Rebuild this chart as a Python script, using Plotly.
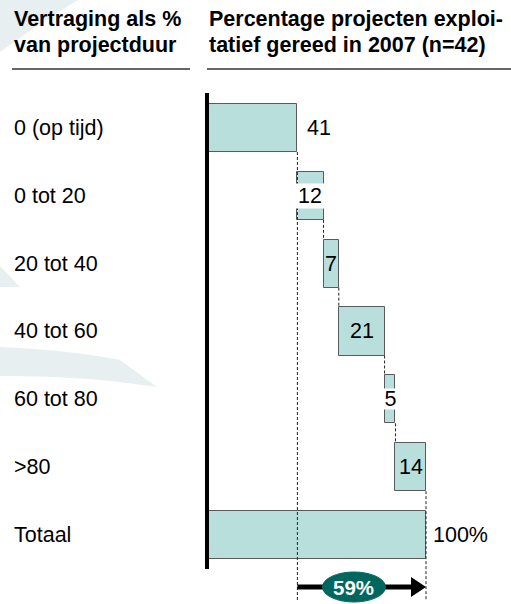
import plotly.graph_objects as go

# ---------------- data ----------------
categories = ["0 (op tijd)", "0 tot 20", "20 tot 40", "40 tot 60", "60 tot 80", ">80", "Totaal"]
values = [41, 12, 7, 21, 5, 14]          # % of projects per delay class
header_left = ["Vertraging als %", "van projectduur"]
header_right = ["Percentage projecten exploi-", "tatief gereed in 2007 (n=42)"]

# ---------------- layout constants ----------------
W, H = 511, 604
X0_PX, PX_PER_UNIT = 208, 2.18      # x pixel of value 0, pixels per percent
ROW0_PX, ROW_PX = 128, 67.83        # y pixel of first row centre, row pitch
BAR_H = 0.708                       # bar thickness in row units
FONT = "Liberation Sans, Arial, sans-serif"
FILL = "#b9dfdd"
EDGE = "#5a5a5a"
DARK = "#00665e"
WM = "#e8eff0"

total = sum(values)
starts, acc = [], 0
for v in values:
    starts.append(acc)
    acc += v
ends = [s + v for s, v in zip(starts, values)]
n = len(categories)

def ry(py):   # pixel y -> row units
    return (py - ROW0_PX) / ROW_PX

def ux(px):   # pixel length -> x units
    return px / PX_PER_UNIT

def pp(x, y):  # pixel -> paper coords string
    return f"{x / W:.5f},{1 - y / H:.5f}"

fig = go.Figure()
fig.add_trace(go.Bar(
    orientation="h",
    y=list(range(n)),
    x=values + [total],
    base=starts + [0],
    width=BAR_H,
    marker=dict(color=FILL, line=dict(color=EDGE, width=1)),
    hoverinfo="skip",
))

shapes = []
# watermark swooshes
for path in [
    f"M {pp(0,0)} L {pp(78,0)} Q {pp(38,24)} {pp(0,52)} Z",
    f"M {pp(0,266)} Q {pp(10,276)} {pp(20,287)} L {pp(0,287)} Z",
    f"M {pp(0,347)} Q {pp(70,350)} {pp(120,360)} L {pp(157,387)} Q {pp(80,375)} {pp(0,376)} Z",
]:
    shapes.append(dict(type="path", xref="paper", yref="paper", path=path,
                       fillcolor=WM, line=dict(width=0), layer="below"))

# header underlines
shapes.append(dict(type="line", xref="paper", yref="paper", x0=12 / W, x1=190 / W,
                   y0=1 - 69 / H, y1=1 - 69 / H, line=dict(color="#333333", width=1.5)))
shapes.append(dict(type="line", xref="paper", yref="paper", x0=207 / W, x1=1,
                   y0=1 - 69 / H, y1=1 - 69 / H, line=dict(color="#333333", width=1.5)))

hw = BAR_H / 2
dash = dict(color="#222222", width=1, dash="3px,2px")
bottom = ry(601)
# long dashed guides at first value and total
shapes.append(dict(type="line", x0=ends[0], x1=ends[0], y0=0 + hw, y1=bottom, line=dash))
shapes.append(dict(type="line", x0=total, x1=total, y0=(n - 2) + hw, y1=bottom, line=dash))
# connectors between steps
for i in range(1, len(values) - 1):
    shapes.append(dict(type="line", x0=ends[i], x1=ends[i], y0=i + hw, y1=i + 1 - hw, line=dash))

# vertical axis line
shapes.append(dict(type="line", x0=-ux(1), x1=-ux(1), y0=ry(93), y1=ry(569),
                   line=dict(color="black", width=4)))

# bottom arrow
ya = ry(587)
tip = total
bx = tip - ux(15)
shapes.append(dict(type="line", x0=ends[0], x1=bx + ux(1), y0=ya, y1=ya,
                   line=dict(color="black", width=5)))
shapes.append(dict(type="path", path=f"M {bx},{ya - ry(ROW0_PX + 10)} L {tip},{ya} L {bx},{ya + ry(ROW0_PX + 10)} Z",
                   fillcolor="black", line=dict(width=0)))
# ellipse
rest = total - values[0]
cx = values[0] + 0.44 * rest
shapes.append(dict(type="circle", x0=cx - ux(31.5), x1=cx + ux(31.5),
                   y0=ya - ry(ROW0_PX + 15), y1=ya + ry(ROW0_PX + 15),
                   fillcolor=DARK, line=dict(color=DARK, width=1)))

annotations = []
# headers
for col_x, lines in [(12, header_left), (207, header_right)]:
    for k, (txt, cy) in enumerate(zip(lines, [18.5, 45])):
        annotations.append(dict(xref="paper", yref="paper", x=col_x / W, y=1 - cy / H,
                                xanchor="left", yanchor="middle", text=txt, showarrow=False,
                                font=dict(family=FONT, size=21.5, color="black", weight="bold")))
# category labels
for i, c in enumerate(categories):
    annotations.append(dict(xref="paper", yref="y", x=12 / W, y=i, xanchor="left",
                            yanchor="middle", text=c, showarrow=False,
                            font=dict(family=FONT, size=21.5, color="black")))
# value labels
BOXED = {1, 4}
lab_font = dict(family=FONT, size=21.5, color="black")
for i, v in enumerate(values):
    if i == 0:
        annotations.append(dict(x=ends[i], y=i, xanchor="left", xshift=8, text=str(v),
                                showarrow=False, font=lab_font))
    elif i in BOXED:
        annotations.append(dict(x=starts[i] + v / 2, y=i, text=str(v), showarrow=False,
                                font=lab_font, bgcolor="white",
                                width=max(ux(0) + v * PX_PER_UNIT + 6, 16), height=24 if v > 9 else 20,
                                borderpad=0))
    else:
        annotations.append(dict(x=starts[i] + v / 2, y=i, text=str(v), showarrow=False,
                                font=lab_font))
annotations.append(dict(x=total, y=n - 1, xanchor="left", xshift=5, text=f"{total}%",
                        showarrow=False, font=lab_font))
annotations.append(dict(x=cx, y=ya, text=f"{rest}%", showarrow=False,
                        font=dict(family=FONT, size=20.5, color="white", weight="bold")))

fig.update_layout(
    width=W, height=H, margin=dict(l=0, r=0, t=0, b=0),
    paper_bgcolor="white", plot_bgcolor="rgba(0,0,0,0)",
    showlegend=False, bargap=0,
    xaxis=dict(range=[-X0_PX / PX_PER_UNIT, (W - X0_PX) / PX_PER_UNIT], visible=False, fixedrange=True),
    yaxis=dict(range=[ry(H), ry(0)], visible=False, fixedrange=True),
    shapes=shapes, annotations=annotations,
)

fig.write_html("out.html", config={"displayModeBar": False})
